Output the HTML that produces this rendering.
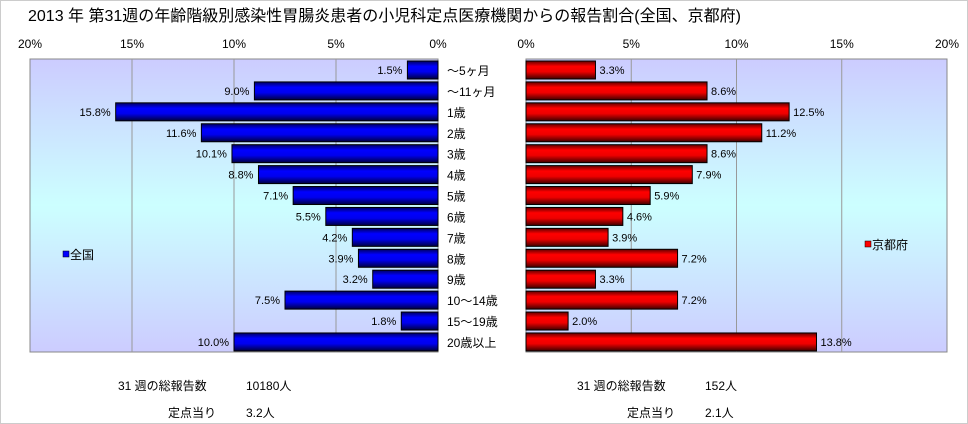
<!DOCTYPE html>
<html><head><meta charset="utf-8"><style>
body{margin:0;background:#fff;}
svg{display:block;font-family:"Liberation Sans","Noto Sans CJK JP",sans-serif;}
</style></head><body>
<svg id="c" width="968" height="424" viewBox="0 0 968 424">
<defs>
<linearGradient id="bg" x1="0" y1="0" x2="0" y2="1">
<stop offset="0" stop-color="#ccccff"/><stop offset="0.5" stop-color="#ccffff"/><stop offset="1" stop-color="#ccccff"/>
</linearGradient>
<linearGradient id="gb" x1="0" y1="0" x2="0" y2="1">
<stop offset="0" stop-color="#000060"/><stop offset="0.3" stop-color="#0000ff"/><stop offset="0.6" stop-color="#0000ee"/><stop offset="1" stop-color="#000040"/>
</linearGradient>
<linearGradient id="gr" x1="0" y1="0" x2="0" y2="1">
<stop offset="0" stop-color="#600000"/><stop offset="0.3" stop-color="#ff0000"/><stop offset="0.6" stop-color="#ee0000"/><stop offset="1" stop-color="#400000"/>
</linearGradient>
</defs>
<rect x="0.5" y="0.5" width="967" height="423" fill="#fff" stroke="#ccc"/>
<text x="28" y="21" font-size="16">2013 年 第31週の年齢階級別感染性胃腸炎患者の小児科定点医療機関からの報告割合(全国、京都府)</text>
<rect x="30" y="59" width="408" height="293" fill="url(#bg)" stroke="#888"/>
<rect x="526" y="59" width="421" height="293" fill="url(#bg)" stroke="#888"/>
<g id="g"></g>
<rect x="63" y="251" width="6" height="6" fill="#0000ff" stroke="#000" stroke-width="0.5"/>
<text x="70" y="259" font-size="12">全国</text>
<rect x="865" y="241" width="6" height="6" fill="#ff0000" stroke="#000" stroke-width="0.5"/>
<text x="872" y="249" font-size="12">京都府</text>
<text x="118" y="390" font-size="12">31 週の総報告数</text>
<text x="246" y="390" font-size="12">10180人</text>
<text x="168" y="417" font-size="12">定点当り</text>
<text x="246" y="417" font-size="12">3.2人</text>
<text x="577" y="390" font-size="12">31 週の総報告数</text>
<text x="705" y="390" font-size="12">152人</text>
<text x="627" y="417" font-size="12">定点当り</text>
<text x="705" y="417" font-size="12">2.1人</text>
</svg>
<script>
const categories=["～5ヶ月","～11ヶ月","1歳","2歳","3歳","4歳","5歳","6歳","7歳","8歳","9歳","10～14歳","15～19歳","20歳以上"];
const nationalValues=[1.5,9.0,15.8,11.6,10.1,8.8,7.1,5.5,4.2,3.9,3.2,7.5,1.8,10.0];
const kyotoValues=[3.3,8.6,12.5,11.2,8.6,7.9,5.9,4.6,3.9,7.2,3.3,7.2,2.0,13.8];
const tickValues=[0,5,10,15,20];
const NS="http://www.w3.org/2000/svg";
const g=document.getElementById('g');
const xL=v=>438-v*20.4, xR=v=>526+v*21.05;
const rowY=i=>61+i*20.92;
function mk(t,a,parent){const e=document.createElementNS(NS,t);for(const k in a)e.setAttribute(k,a[k]);(parent||g).appendChild(e);return e;}
tickValues.forEach(t=>{
  if(t>0&&t<20){
    const l1=mk('line',{x1:xL(t),x2:xL(t),y1:59,y2:352,stroke:'#999'});
    
    
    const l2=mk('line',{x1:xR(t),x2:xR(t),y1:59,y2:352,stroke:'#999'});
    
    
  }
  const a=mk('text',{x:xL(t),y:48,'font-size':12,'text-anchor':'middle'});a.textContent=t+'%';
  
  
  const b=mk('text',{x:xR(t),y:48,'font-size':12,'text-anchor':'middle'});b.textContent=t+'%';
  
  
});
categories.forEach((c,i)=>{
  const y=rowY(i),h=18;
  const nv=nationalValues[i],kv=kyotoValues[i];
  const r1=mk('rect',{x:xL(nv),y:y,width:xL(0)-xL(nv),height:h,fill:'url(#gb)',stroke:'#000','stroke-width':1});
  
  
  const t1=mk('text',{x:xL(nv)-5,y:y+13,'font-size':11,'text-anchor':'end'});t1.textContent=nv.toFixed(1)+'%';
  
  
  const r2=mk('rect',{x:xR(0),y:y,width:xR(kv)-xR(0),height:h,fill:'url(#gr)',stroke:'#000','stroke-width':1});
  
  
  const t2=mk('text',{x:xR(kv)+4,y:y+13,'font-size':11});t2.textContent=kv.toFixed(1)+'%';
  
  
  const cl=mk('text',{x:447,y:y+14,'font-size':12});cl.textContent=c;
  
  
});
</script>
</body></html>
